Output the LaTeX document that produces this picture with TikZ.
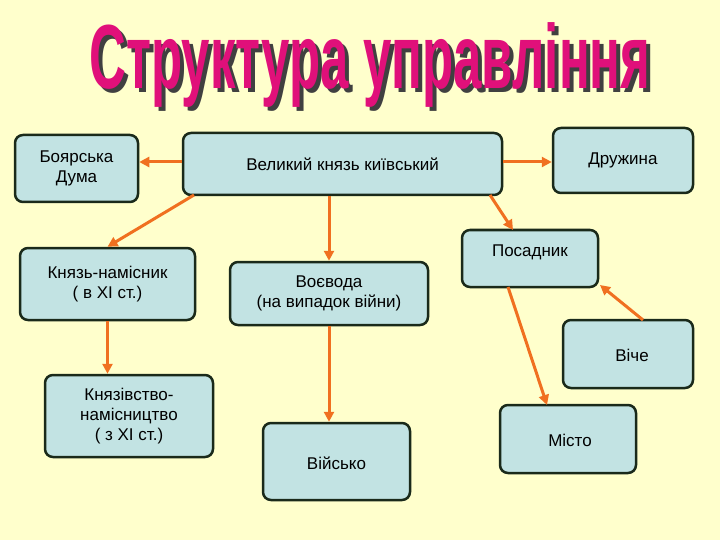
\documentclass[tikz,border=0pt]{standalone}
\usepackage{fontspec}
\setmainfont{Liberation Sans}
\usetikzlibrary{arrows.meta}
\definecolor{bg}{HTML}{FFFFCC}
\definecolor{boxf}{HTML}{C2E3E3}
\definecolor{boxd}{HTML}{1A2A1A}
\definecolor{arr}{HTML}{F07020}
\definecolor{ttl}{HTML}{E0107A}
\begin{document}
\begin{tikzpicture}[x=1pt,y=-1pt,
  bx/.style={draw=boxd,line width=2.5pt,fill=boxf,rounded corners=8pt,align=center,font=\fontsize{17}{20}\selectfont,inner sep=0pt},
  ttlfont/.style={font=\bfseries\fontsize{52}{52}\selectfont,xscale=0.98,yscale=1.75},
  ar/.style={draw=arr,line width=3pt,-{Triangle[length=10pt,width=10pt]}}]
\fill[bg] (0,0) rectangle (720,540);
\useasboundingbox (0,0) rectangle (720,540);
\node[text=black!75,ttlfont] at (374,69) {Структура управління};
\node (t) [text=ttl,ttlfont] at (370,65) {Структура управління};
\node (bd) [bx,minimum width=123pt,minimum height=67pt] at (76.5,168.5) {Боярська\\Дума};
\node (vk) [bx,minimum width=319pt,minimum height=62pt] at (342.5,164) {Великий князь київський};
\node (dr) [bx,minimum width=140pt,minimum height=65pt] at (623,160.5) {Дружина};
\node (kn) [bx,minimum width=175pt,minimum height=72pt] at (107.5,284) {Князь-намісник\\( в XI ст.)};
\node (vo) [bx,minimum width=198pt,minimum height=63pt] at (329,293.5) {Воєвода\\(на випадок війни)};
\node (po) [bx,minimum width=136pt,minimum height=57pt] at (530,258.5) {};
\node at (530,252) {\fontsize{17}{20}\selectfont Посадник};
\node (vc) [bx,minimum width=130pt,minimum height=68pt] at (628,354) {};
\node at (632,355) {\fontsize{17}{20}\selectfont Віче};
\node (kz) [bx,minimum width=168pt,minimum height=82pt] at (129,416) {Князівство-\\намісництво\\( з XI ст.)};
\node (vi) [bx,minimum width=147pt,minimum height=77pt] at (336.5,461.5) {};
\node at (336.5,463) {\fontsize{17}{20}\selectfont Військо};
\node (mi) [bx,minimum width=136pt,minimum height=68pt] at (568,439) {};
\node at (570,440) {\fontsize{17}{20}\selectfont Місто};
\draw[ar] (vk.west |- 0,162) -- (bd.east |- 0,162);
\draw[ar] (vk.east |- 0,162) -- (dr.west |- 0,162);
\draw[ar] (194,195) -- (kn.north);
\draw[ar] (vk.south -| vo.north) -- (vo.north);
\draw[ar] (490,195) -- (513,230);
\draw[ar] (kn.south) -- (kz.north -| kn.south);
\draw[ar] (vo.south) -- (vi.north -| vo.south);
\draw[ar] (508,287) -- (547,405);
\draw[ar] (643,320) -- (600,285);
\end{tikzpicture}
\end{document}
